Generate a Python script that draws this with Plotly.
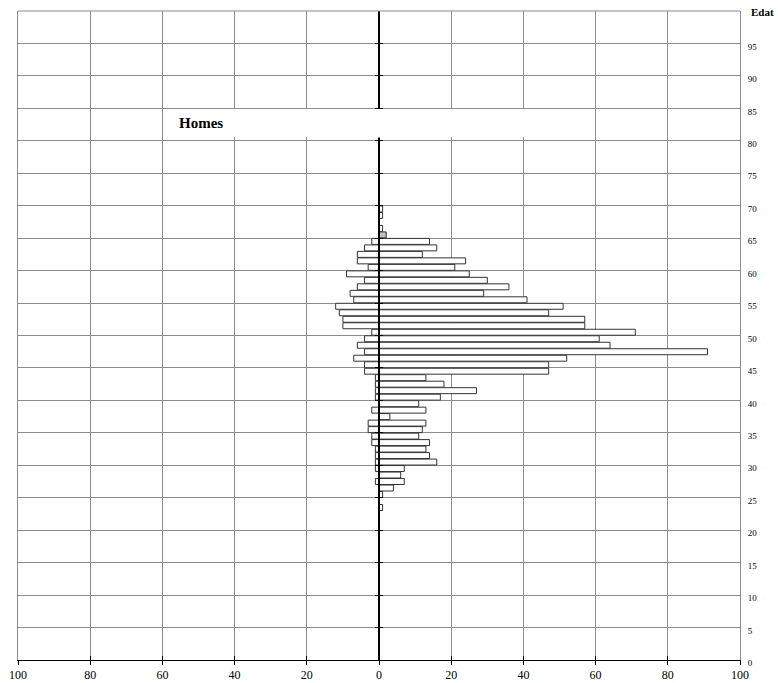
import plotly.graph_objects as go

ages = list(range(23, 70))
right_vals = [1, 0, 1, 4, 7, 6, 7, 16, 14, 13, 14, 11, 12, 13, 3, 13, 11, 17, 27, 18,
              13, 47, 47, 52, 91, 64, 61, 71, 57, 57, 47, 51, 41, 29, 36, 30, 25, 21,
              24, 12, 16, 14, 2, 1, 0, 1, 1]
left_vals = [0, 0, 0, 0, 1, 0, 1, 1, 1, 1, 2, 2, 3, 3, 0, 2, 0, 1, 1, 1,
             1, 4, 4, 7, 4, 6, 4, 2, 10, 10, 11, 12, 7, 8, 6, 4, 9, 3,
             6, 6, 4, 2, 0, 0, 0, 0, 0]
highlight_age = 65

x_ticks = list(range(-100, 101, 20))
x_tick_text = [str(abs(v)) for v in x_ticks]
y_ticks = list(range(0, 100, 5))
y_tick_text = [str(v) for v in y_ticks]

SERIF = "Liberation Serif"
GRID = "#8c8c8c"
EDGE = "#333333"

centers = [a + 0.5 for a in ages]
right_colors = ["#c0c0c0" if a == highlight_age else "white" for a in ages]

fig = go.Figure()
fig.add_trace(go.Bar(
    y=centers, x=[-v for v in left_vals], orientation="h",
    marker=dict(color="white", line=dict(color=EDGE, width=1)),
    showlegend=False, hoverinfo="skip"))
fig.add_trace(go.Bar(
    y=centers, x=right_vals, orientation="h",
    marker=dict(color=right_colors, line=dict(color=EDGE, width=1)),
    showlegend=False, hoverinfo="skip"))
# dummy traces to instantiate overlay axes (zero axis ticks)
fig.add_trace(go.Scatter(x=[None], y=[None], yaxis="y2", showlegend=False, hoverinfo="skip"))
fig.add_trace(go.Scatter(x=[None], y=[None], yaxis="y3", showlegend=False, hoverinfo="skip"))
fig.add_trace(go.Scatter(x=[None], y=[None], xaxis="x2", showlegend=False, hoverinfo="skip"))

fig.update_layout(
    template="none",
    width=778, height=683,
    margin=dict(l=18, r=38, t=11, b=23, autoexpand=False),
    paper_bgcolor="white", plot_bgcolor="white",
    barmode="relative", bargap=0.08,
    font=dict(family=SERIF, color="black"),
    xaxis=dict(
        range=[-100, 100], tickmode="array", tickvals=x_ticks, ticktext=x_tick_text,
        showgrid=True, gridcolor=GRID, gridwidth=1, automargin=False,
        zeroline=False, showline=True, linecolor="black", linewidth=1,
        ticks="outside", ticklen=4, tickcolor="black", tickwidth=1,
        tickfont=dict(family=SERIF, size=12, color="black"),
    ),
    xaxis2=dict(
        range=[-100, 100], overlaying="x", anchor="y", side="bottom",
        tickmode="array", tickvals=x_ticks, showticklabels=False, automargin=False,
        showgrid=False, zeroline=False, showline=False,
        ticks="inside", ticklen=4, tickcolor="black", tickwidth=1,
    ),
    yaxis=dict(
        range=[0, 100], side="right", tickmode="array",
        tickvals=y_ticks + [100], ticktext=y_tick_text + [""], automargin=False,
        showgrid=True, gridcolor=GRID, gridwidth=1,
        zeroline=False, showline=True, linecolor=GRID, linewidth=1, mirror=True,
        ticks="", ticklabelstandoff=5, ticklabelshift=3,
        tickfont=dict(family=SERIF, size=9, color="black"),
    ),
    yaxis2=dict(
        range=[0, 100], overlaying="y", anchor="free", position=0.5, side="left",
        tickmode="array", tickvals=y_ticks, showticklabels=False, automargin=False,
        showgrid=False, zeroline=False, showline=True, linecolor="black", linewidth=2,
        ticks="outside", ticklen=3, tickcolor="black", tickwidth=1,
        layer="above traces",
    ),
    yaxis3=dict(
        range=[0, 100], overlaying="y", anchor="free", position=0.5, side="right",
        tickmode="array", tickvals=y_ticks, showticklabels=False, automargin=False,
        showgrid=False, zeroline=False, showline=False,
        ticks="outside", ticklen=3, tickcolor="black", tickwidth=1,
        layer="above traces",
    ),
    shapes=[
        dict(type="line", xref="paper", yref="paper", x0=0, x1=1, y0=1, y1=1,
             line=dict(color=GRID, width=1)),
        dict(type="rect", xref="x", yref="y", x0=-59.7, x1=52.2, y0=80.5, y1=84.9,
             fillcolor="white", line=dict(width=0), layer="above"),
    ],
    annotations=[
        dict(text="<b>Homes</b>", xref="x", yref="y", x=-56, y=82.7,
             xanchor="left", yanchor="middle", showarrow=False,
             font=dict(family=SERIF, size=15, color="black")),
        dict(text="<b>Edat</b>", xref="paper", yref="paper", x=1.012, y=0.998,
             xanchor="left", yanchor="middle", showarrow=False,
             font=dict(family=SERIF, size=11, color="black")),
    ],
)

fig.write_html(
    "out.html",
    config={"displayModeBar": False, "staticPlot": True},
    post_script="document.body.style.margin='0';document.body.style.overflow='hidden';",
)
